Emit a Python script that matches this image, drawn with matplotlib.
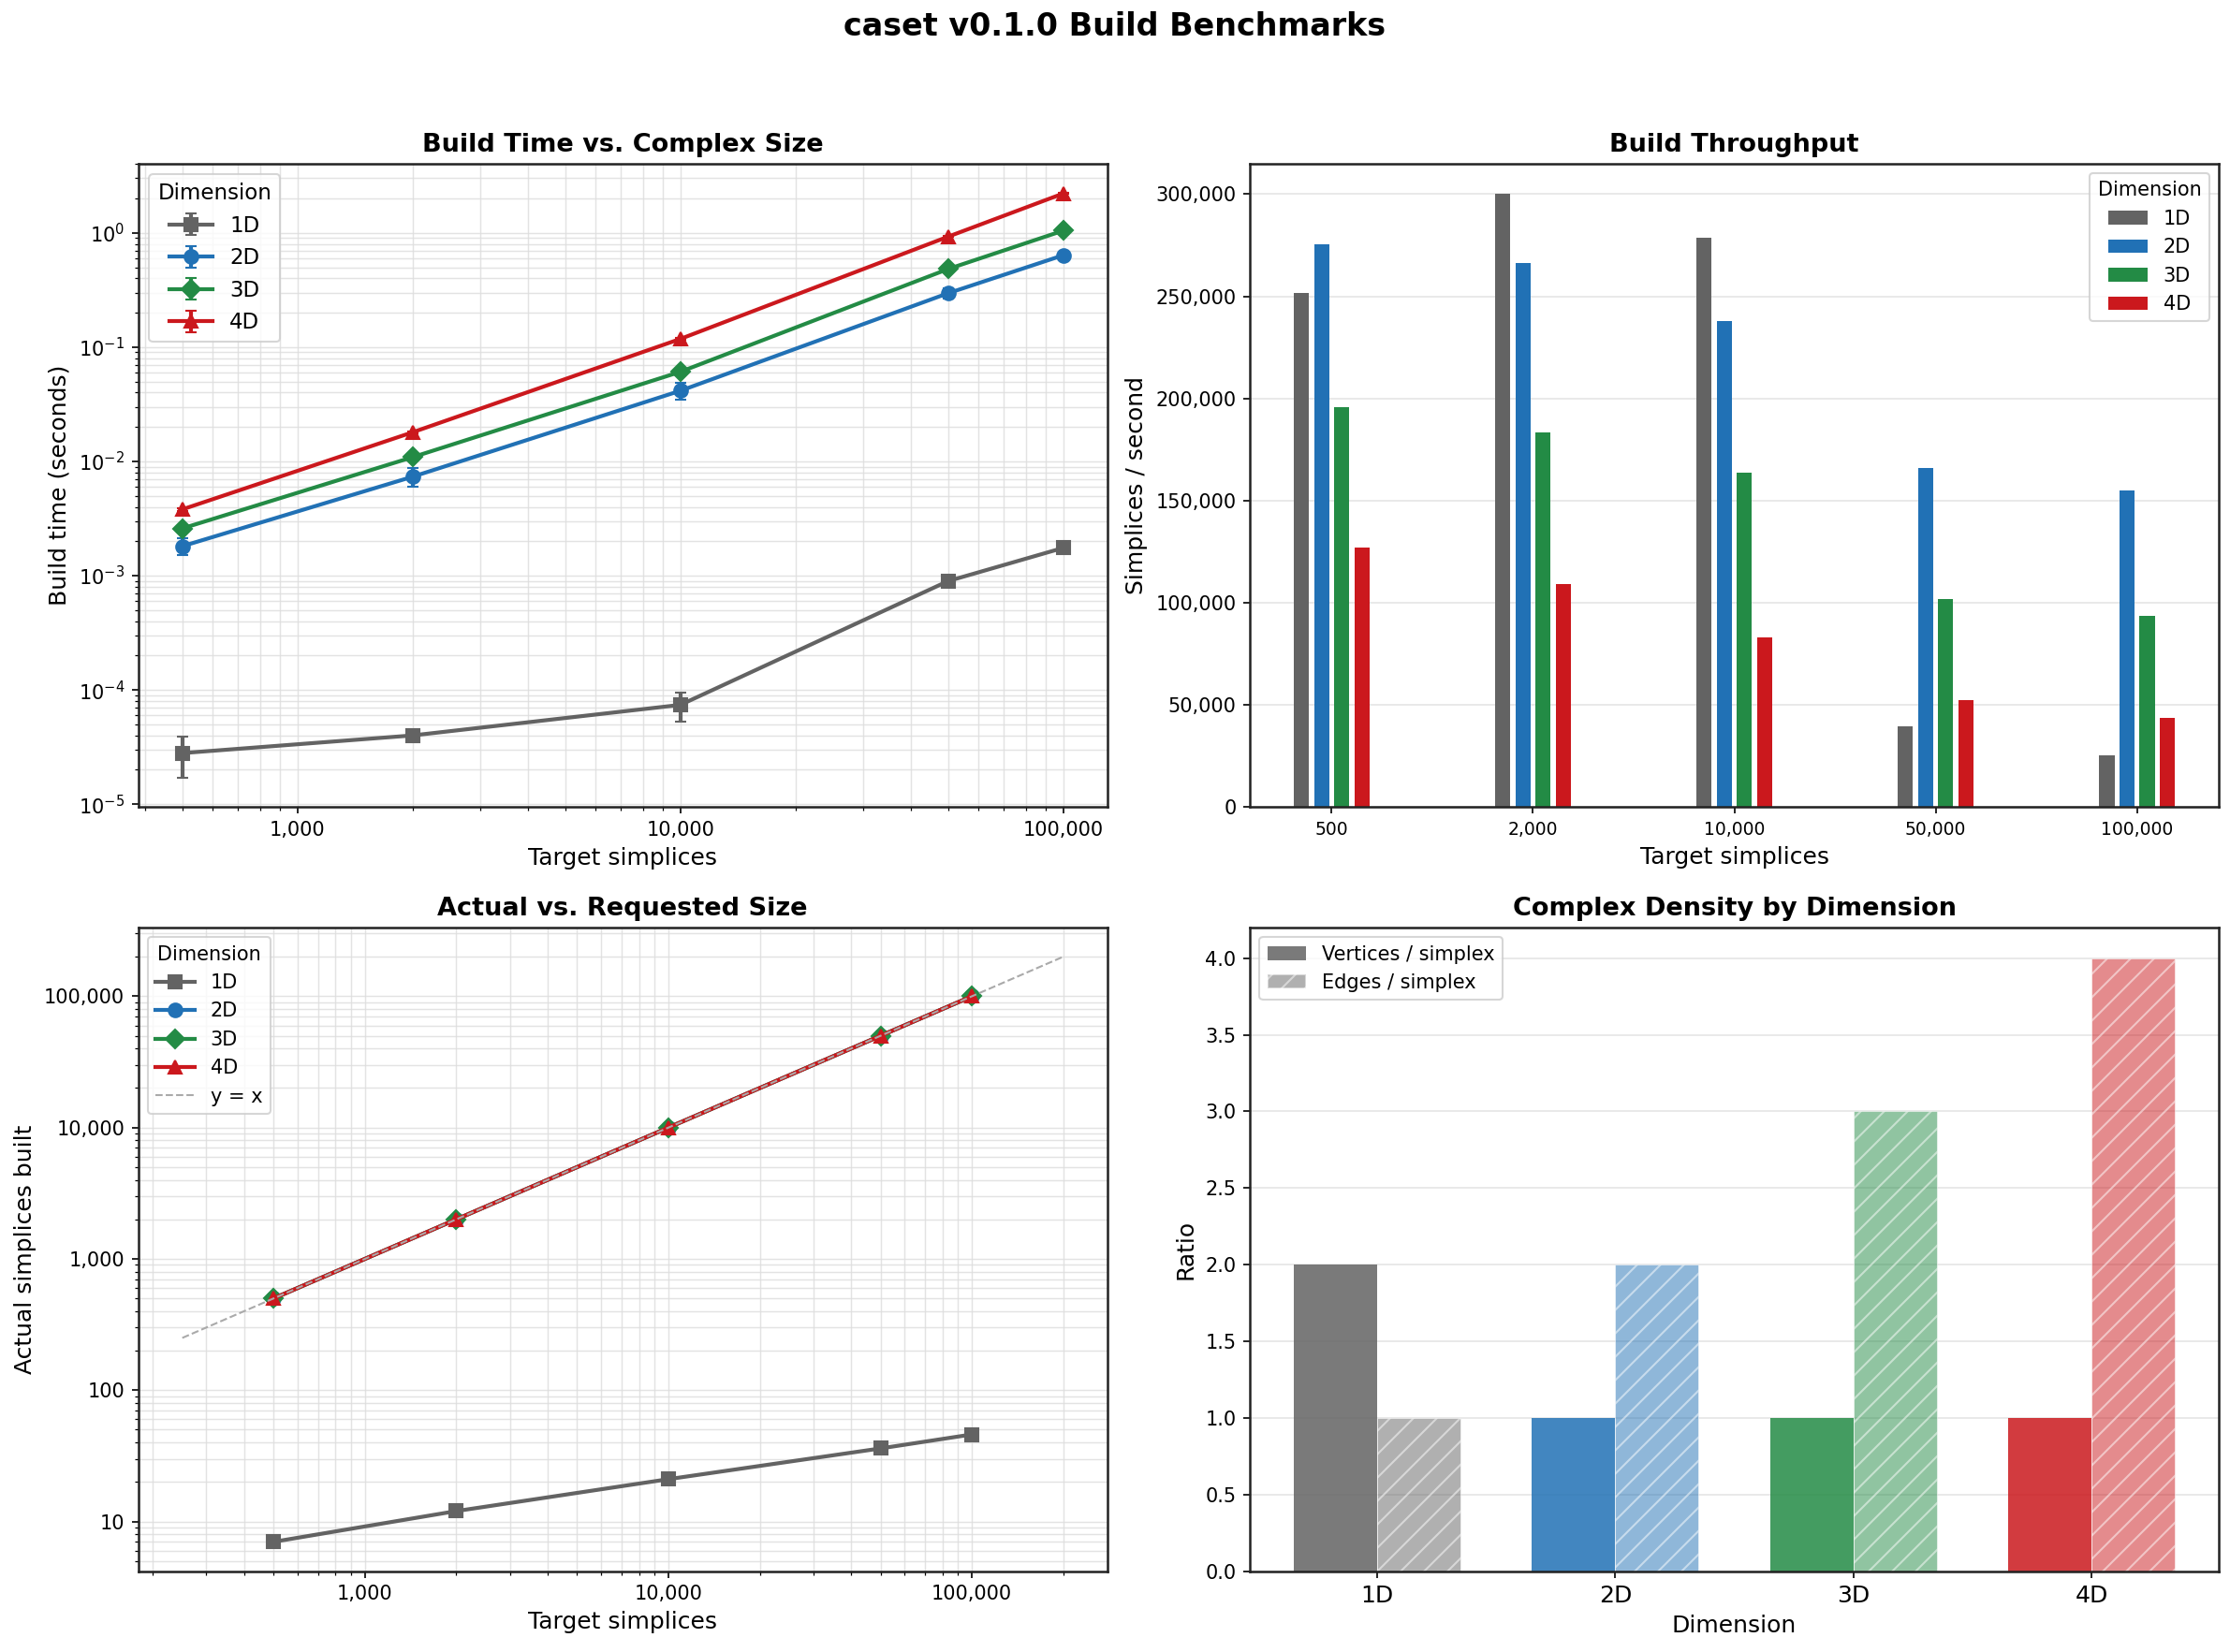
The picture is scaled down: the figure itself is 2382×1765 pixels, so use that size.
import numpy as np
import matplotlib
matplotlib.use("Agg")
import matplotlib.pyplot as plt
from matplotlib.ticker import FuncFormatter
from matplotlib.patches import Patch

# benchmark data
targets = [500, 2000, 10000, 50000, 100000]
dims = ['1D', '2D', '3D', '4D']
colors = ['#636363', '#2171b5', '#238b45', '#cb181d']
markers = ['s', 'o', 'D', '^']

time_1d = [2.8e-5, 4.0e-5, 7.4e-5, 8.96e-4, 1.75e-3]
time_2d = [0.00181, 0.00735, 0.0415, 0.296, 0.637]
time_3d = [0.00259, 0.0109, 0.0608, 0.482, 1.045]
time_4d = [0.0038, 0.018, 0.118, 0.925, 2.21]

err_1d = [1.1e-5, 1.5e-6, 2.1e-5, 4e-5, 8e-5]
err_2d = [0.0003, 0.0014, 0.007, 0.03, 0.02]
err_3d = [0.0001, 0.0004, 0.002, 0.01, 0.02]
err_4d = [0.0001, 0.0004, 0.002, 0.01, 0.03]

thr_1d = [251700, 300000, 278500, 39400, 25300]
thr_2d = [275700, 266500, 238000, 166200, 154900]
thr_3d = [195800, 183300, 163900, 101900, 93700]
thr_4d = [127200, 109300, 83100, 52300, 43700]

actual_1d = [7, 12, 21, 36, 46]
actual_2d = [500, 2000, 10000, 50000, 100000]
actual_3d = [500, 2000, 10000, 50000, 100000]
actual_4d = [500, 2000, 10000, 50000, 100000]

verts_per_simplex = [2, 1, 1, 1]
edges_per_simplex = [1, 2, 3, 4]

times = [time_1d, time_2d, time_3d, time_4d]
errs = [err_1d, err_2d, err_3d, err_4d]
thrs = [thr_1d, thr_2d, thr_3d, thr_4d]
actuals = [actual_1d, actual_2d, actual_3d, actual_4d]

comma = FuncFormatter(lambda v, p: f'{int(v):,}')

fig, axes = plt.subplots(2, 2, figsize=(2382 / 150, 1765 / 150), dpi=150)
fig.subplots_adjust(left=0.062, right=0.995, top=0.901, bottom=0.049, wspace=0.147, hspace=0.187)
fig.suptitle('caset v0.1.0 Build Benchmarks', fontsize=16, fontweight='bold', y=0.993)

for ax in axes.flat:
    for s in ax.spines.values():
        s.set_linewidth(1.2)
        s.set_color('#222222')

# --- build time
ax = axes[0, 0]
for i in range(4):
    ax.errorbar(targets, times[i], yerr=errs[i], color=colors[i], marker=markers[i],
                markersize=7, linewidth=2, capsize=3, label=dims[i])
ax.set_xscale('log')
ax.set_yscale('log')
ax.xaxis.set_major_formatter(comma)
ax.grid(True, which='both', color='#dddddd', linewidth=0.7, alpha=0.8)
ax.set_xlabel('Target simplices', fontsize=12)
ax.set_ylabel('Build time (seconds)', fontsize=12)
ax.set_title('Build Time vs. Complex Size', fontsize=13, fontweight='bold')
ax.legend(title='Dimension', fontsize=11, title_fontsize=11, loc='upper left')

# --- throughput
ax = axes[0, 1]
x = np.arange(len(targets))
w = 0.075
for i in range(4):
    ax.bar(x + (i - 1.5) * 0.1, thrs[i], width=w, color=colors[i], label=dims[i])
ax.set_xticks(x)
ax.set_xticklabels([f'{t:,}' for t in targets], fontsize=9)
ax.yaxis.set_major_formatter(comma)
ax.grid(True, axis='y', color='#e5e5e5', linewidth=0.8)
ax.set_axisbelow(True)
ax.set_xlabel('Target simplices', fontsize=12)
ax.set_ylabel('Simplices / second', fontsize=12)
ax.set_title('Build Throughput', fontsize=13, fontweight='bold')
ax.legend(title='Dimension', fontsize=10, title_fontsize=10, loc='upper right')

# --- actual vs requested
ax = axes[1, 0]
for i in range(4):
    ax.plot(targets, actuals[i], color=colors[i], marker=markers[i],
            markersize=7, linewidth=2, label=dims[i])
ref = [250, 200000]
ax.plot(ref, ref, '--', color='#aaaaaa', linewidth=1, label='y = x')
ax.set_xscale('log')
ax.set_yscale('log')
ax.xaxis.set_major_formatter(comma)
ax.yaxis.set_major_formatter(comma)
ax.grid(True, which='both', color='#dddddd', linewidth=0.7, alpha=0.8)
ax.set_xlabel('Target simplices', fontsize=12)
ax.set_ylabel('Actual simplices built', fontsize=12)
ax.set_title('Actual vs. Requested Size', fontsize=13, fontweight='bold')
ax.legend(title='Dimension', fontsize=10, title_fontsize=10, loc='upper left')

# --- density
ax = axes[1, 1]
xd = np.arange(len(dims))
bw = 0.35
for i in range(4):
    ax.bar(xd[i] - bw / 2, verts_per_simplex[i], width=bw, color=colors[i], alpha=0.85)
    ax.bar(xd[i] + bw / 2, edges_per_simplex[i], width=bw, color=colors[i], alpha=0.5,
           hatch='//', edgecolor='white', linewidth=0.5)
ax.set_xticks(xd)
ax.set_xticklabels(dims, fontsize=12)
ax.grid(True, axis='y', color='#e5e5e5', linewidth=0.8)
ax.set_axisbelow(True)
ax.set_xlabel('Dimension', fontsize=12)
ax.set_ylabel('Ratio', fontsize=12)
ax.set_title('Complex Density by Dimension', fontsize=13, fontweight='bold')
handles = [Patch(facecolor='#636363', alpha=0.85, label='Vertices / simplex'),
           Patch(facecolor='#636363', alpha=0.5, hatch='//', edgecolor='white', label='Edges / simplex')]
ax.legend(handles=handles, fontsize=10, loc='upper left')

fig.savefig('out.png', dpi=150)
